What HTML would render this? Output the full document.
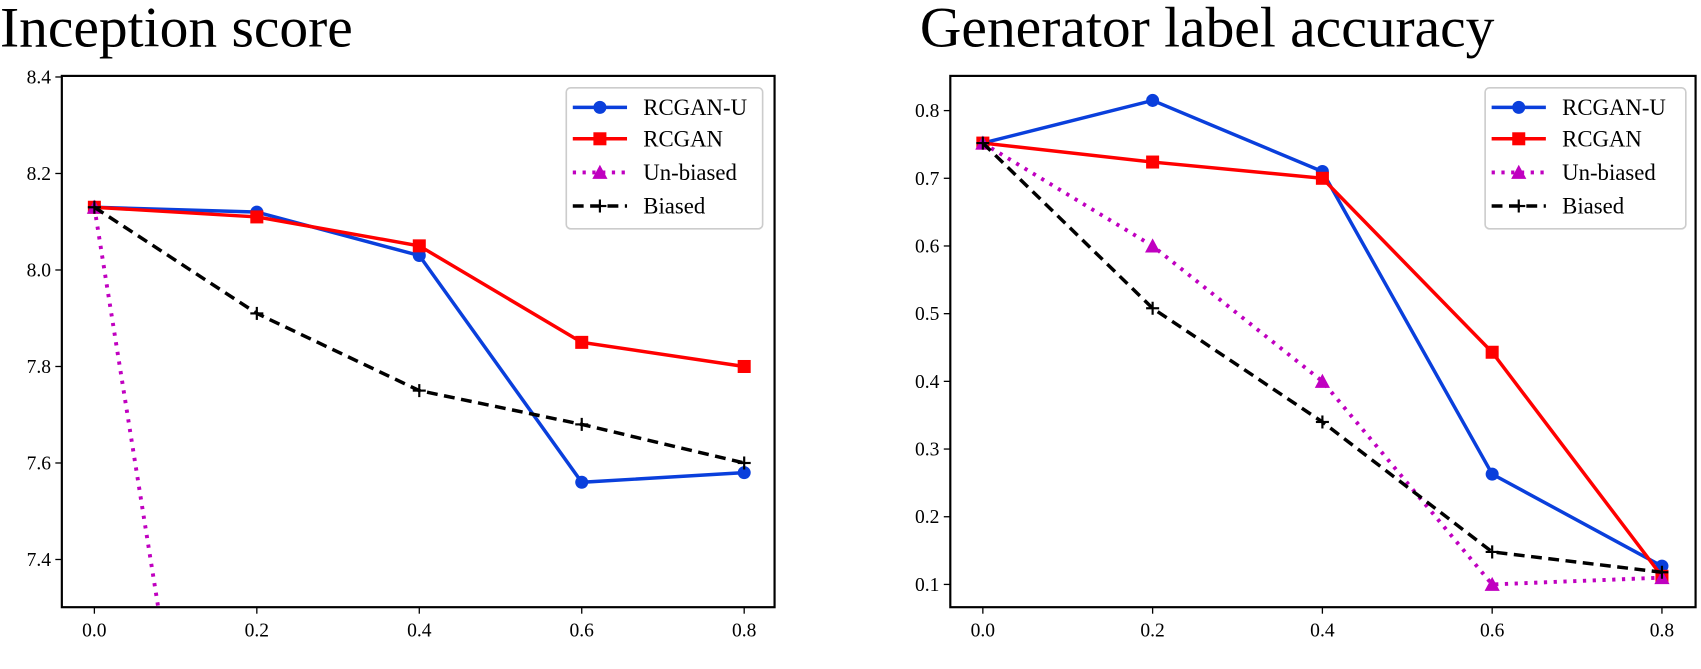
<!DOCTYPE html>
<html><head><meta charset="utf-8"><style>
html,body{margin:0;padding:0;background:#fff;width:1701px;height:669px;overflow:hidden;}
svg{display:block;}
svg text{font-family:"Liberation Serif",serif;}
</style></head><body>
<svg id="chart" width="1701" height="669" viewBox="0 0 1568 617" preserveAspectRatio="none" xmlns="http://www.w3.org/2000/svg">
<defs>
<clipPath id="c1"><rect x="57" y="70" width="657" height="490"/></clipPath>
<clipPath id="c2"><rect x="876" y="70" width="687" height="490"/></clipPath>
</defs>
</svg>
<script>
const xVals=[0,0.2,0.4,0.6,0.8];
const xTicks=["0.0","0.2","0.4","0.6","0.8"];
const seriesNames=["RCGAN-U","RCGAN","Un-biased","Biased"];
const isRcganU=[8.13,8.12,8.03,7.56,7.58];
const isRcgan=[8.13,8.11,8.05,7.85,7.80];
const isUnbiased=[8.13,6.02,5.5,5.2,5.0];
const isBiased=[8.13,7.91,7.75,7.68,7.60];
const isTicks=[7.4,7.6,7.8,8.0,8.2,8.4];
const accRcganU=[0.752,0.815,0.71,0.263,0.127];
const accRcgan=[0.752,0.724,0.70,0.443,0.112];
const accUnbiased=[0.752,0.60,0.40,0.10,0.11];
const accBiased=[0.752,0.508,0.34,0.148,0.118];
const accTicks=[0.1,0.2,0.3,0.4,0.5,0.6,0.7,0.8];

const svg=document.getElementById('chart');
const NS="http://www.w3.org/2000/svg";
function mk(t,a,p){const e=document.createElementNS(NS,t);for(const k in a)e.setAttribute(k,a[k]);(p||svg).appendChild(e);return e;}
const styles=[
 {c:"#0a3fdc",dash:"",m:"circle",w:3.2},
 {c:"#ff0000",dash:"",m:"square",w:3.2},
 {c:"#c000c0",dash:"3,6",m:"tri",w:3.6},
 {c:"#000",dash:"10,6",m:"plus",w:3.2}];
function marker(g,s,x,y){
 if(s.m==="circle")mk('circle',{cx:x,cy:y,r:6,fill:s.c},g);
 else if(s.m==="square")mk('rect',{x:x-6,y:y-6,width:12,height:12,fill:s.c},g);
 else if(s.m==="tri")mk('polygon',{points:`${x},${y-7} ${x-7},${y+6} ${x+7},${y+6}`,fill:s.c},g);
 else{mk('line',{x1:x-6,y1:y,x2:x+6,y2:y,stroke:s.c,'stroke-width':2},g);mk('line',{x1:x,y1:y-6,x2:x,y2:y+6,stroke:s.c,'stroke-width':2},g);}
}
function panel(o){
 const X=v=>o.x0+(v-0)/(0.8)*(o.x8-o.x0);
 const Y=v=>o.ya+(v-o.va)/(o.vb-o.va)*(o.yb-o.ya);
 const t=mk('text',{x:o.tx,y:43,'font-size':53});t.textContent=o.title;
 
 xVals.forEach((v,i)=>{const x=X(v);mk('line',{x1:x,y1:o.b,x2:x,y2:o.b+6,stroke:'#000','stroke-width':1.2});
  const l=mk('text',{x:x,y:o.b+27,'font-size':18,'text-anchor':'middle'});l.textContent=xTicks[i];
  });
 o.ticks.forEach(v=>{const y=Y(v);mk('line',{x1:o.l-6,y1:y,x2:o.l,y2:y,stroke:'#000','stroke-width':1.2});
  const l=mk('text',{x:o.l-10,y:y+6,'font-size':18,'text-anchor':'end'});l.textContent=v.toFixed(1);
  });
 const g=mk('g',{'clip-path':`url(#${o.clip})`});
 
 o.series.forEach((d,si)=>{const s=styles[si];
  const pts=d.map((v,i)=>X(xVals[i])+','+Y(v)).join(' ');
  const pl=mk('polyline',{points:pts,fill:'none',stroke:s.c,'stroke-width':s.w,'stroke-dasharray':s.dash},g);
  
  d.forEach((v,i)=>marker(g,s,X(xVals[i]),Y(v)));});
 const fr=mk('rect',{x:o.l,y:70,width:o.r-o.l,height:o.b-70,fill:'none',stroke:'#000','stroke-width':2});
 
 const lg=mk('g',{});
 mk('rect',{x:o.lx,y:81,width:o.lw,height:130,rx:4,fill:'#fff',stroke:'#ccc','stroke-width':1.5},lg);
 [99,128,159,190].forEach((y,i)=>{const s=styles[i];
  const e=mk('g',{},lg);
  mk('line',{x1:o.lx+6,y1:y,x2:o.lx+56,y2:y,stroke:s.c,'stroke-width':s.w,'stroke-dasharray':s.dash},e);
  marker(e,s,o.lx+31,y);
  const tx=mk('text',{x:o.lx+71,y:y+7,'font-size':21},e);tx.textContent=seriesNames[i];});
}
panel({id:'inception',title:'Inception score',tx:0,l:57,r:714,b:560,x0:87,x8:686,ya:516,va:7.4,yb:160,vb:8.2,
 ticks:isTicks,series:[isRcganU,isRcgan,isUnbiased,isBiased],clip:'c1',lx:522,lw:181});
panel({id:'accuracy',title:'Generator label accuracy',tx:848,l:876,r:1563,b:560,x0:906,x8:1532,ya:539,va:0.1,yb:102,vb:0.8,
 ticks:accTicks,series:[accRcganU,accRcgan,accUnbiased,accBiased],clip:'c2',lx:1369,lw:185});
</script>
</body></html>
